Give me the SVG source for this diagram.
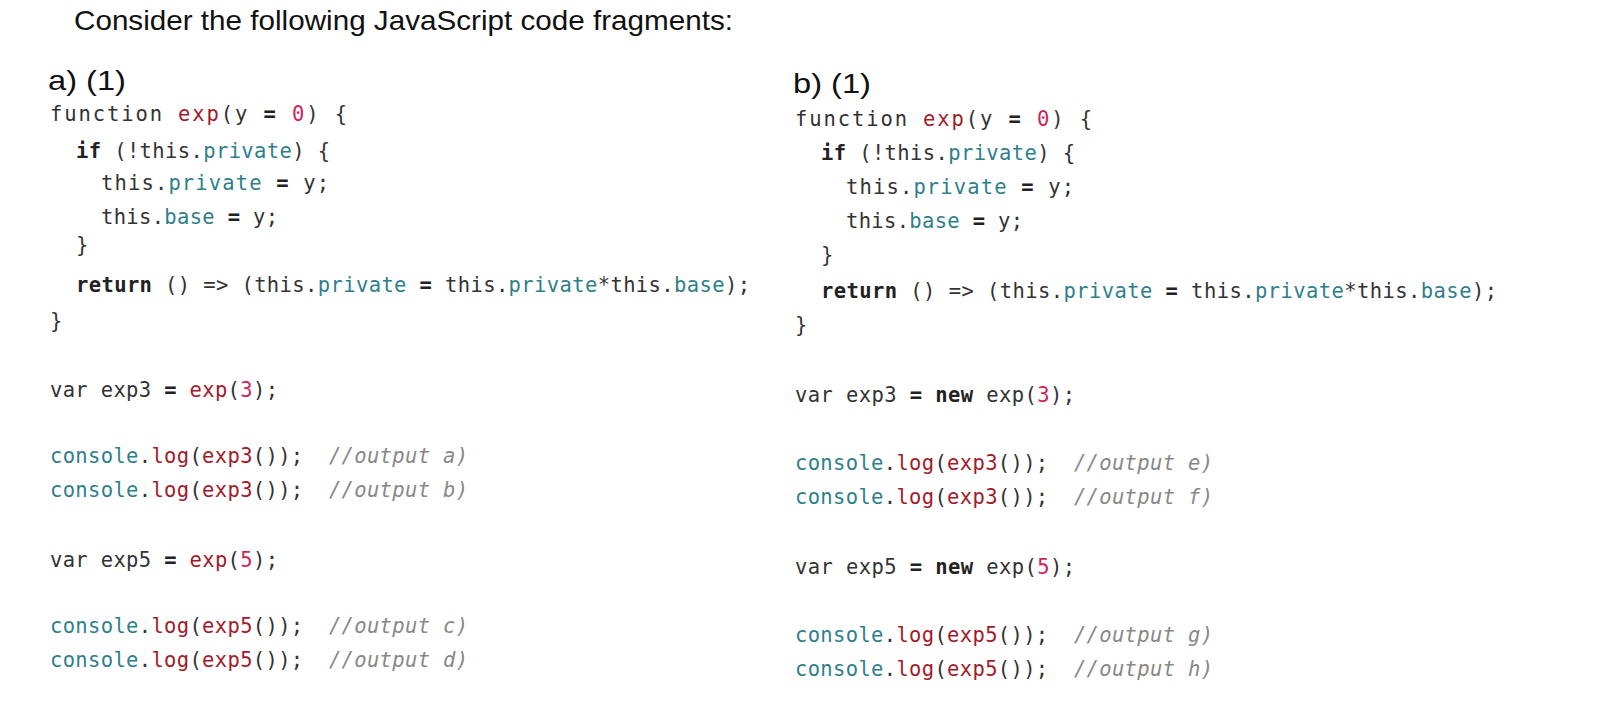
<svg xmlns="http://www.w3.org/2000/svg" width="1608" height="720" viewBox="0 0 1608 720">
<style>
.h{font-family:"Liberation Sans",Carlito,sans-serif;font-size:28px;fill:#111}
.c{font-family:"DejaVu Sans Mono","Liberation Mono",monospace;font-size:20.5px;fill:#333;white-space:pre}
.k{font-weight:bold;fill:#222}
.r{fill:#a31b2b}
.n{fill:#d0245a}
.p{fill:#2e7f8c}
.m{fill:#888;font-style:italic}
</style>
<rect width="1608" height="720" fill="#fff"/>
<text class="h" x="74" y="30" textLength="659" lengthAdjust="spacingAndGlyphs">Consider the following JavaScript code fragments:</text>
<text class="h" x="48" y="90" textLength="78" lengthAdjust="spacingAndGlyphs">a) (1)</text>
<text class="h" x="793" y="93" textLength="78" lengthAdjust="spacingAndGlyphs">b) (1)</text>
<g id="codeA" class="c" xml:space="preserve">
<text x="50" y="121" textLength="297">function <tspan class="r">exp</tspan>(y <tspan class="k">=</tspan> <tspan class="n">0</tspan>) {</text>
<text x="76" y="158" textLength="254"><tspan class="k">if</tspan> (!this.<tspan class="p">private</tspan>) {</text>
<text x="101" y="190" textLength="228">this.<tspan class="p">private</tspan> <tspan class="k">=</tspan> y;</text>
<text x="101" y="224" textLength="177">this.<tspan class="p">base</tspan> <tspan class="k">=</tspan> y;</text>
<text x="76" y="252">}</text>
<text x="76" y="292" textLength="674"><tspan class="k">return</tspan> () => (this.<tspan class="p">private</tspan> <tspan class="k">=</tspan> this.<tspan class="p">private</tspan>*this.<tspan class="p">base</tspan>);</text>
<text x="50" y="328">}</text>
<text x="50" y="397" textLength="228">var exp3 <tspan class="k">=</tspan> <tspan class="r">exp</tspan>(<tspan class="n">3</tspan>);</text>
<text x="50" y="463" textLength="418"><tspan class="p">console</tspan>.<tspan class="r">log</tspan>(<tspan class="r">exp3</tspan>());&#160; <tspan class="m">//output a)</tspan></text>
<text x="50" y="497" textLength="418"><tspan class="p">console</tspan>.<tspan class="r">log</tspan>(<tspan class="r">exp3</tspan>());&#160; <tspan class="m">//output b)</tspan></text>
<text x="50" y="567" textLength="228">var exp5 <tspan class="k">=</tspan> <tspan class="r">exp</tspan>(<tspan class="n">5</tspan>);</text>
<text x="50" y="633" textLength="418"><tspan class="p">console</tspan>.<tspan class="r">log</tspan>(<tspan class="r">exp5</tspan>());&#160; <tspan class="m">//output c)</tspan></text>
<text x="50" y="667" textLength="418"><tspan class="p">console</tspan>.<tspan class="r">log</tspan>(<tspan class="r">exp5</tspan>());&#160; <tspan class="m">//output d)</tspan></text>
</g>
<g id="codeB" class="c" xml:space="preserve">
<text x="795" y="126" textLength="297">function <tspan class="r">exp</tspan>(y <tspan class="k">=</tspan> <tspan class="n">0</tspan>) {</text>
<text x="821" y="160" textLength="254"><tspan class="k">if</tspan> (!this.<tspan class="p">private</tspan>) {</text>
<text x="846" y="194" textLength="228">this.<tspan class="p">private</tspan> <tspan class="k">=</tspan> y;</text>
<text x="846" y="228" textLength="177">this.<tspan class="p">base</tspan> <tspan class="k">=</tspan> y;</text>
<text x="821" y="262">}</text>
<text x="821" y="298" textLength="676"><tspan class="k">return</tspan> () => (this.<tspan class="p">private</tspan> <tspan class="k">=</tspan> this.<tspan class="p">private</tspan>*this.<tspan class="p">base</tspan>);</text>
<text x="795" y="332">}</text>
<text x="795" y="402" textLength="280">var exp3 <tspan class="k">=</tspan> <tspan class="k">new</tspan> exp(<tspan class="n">3</tspan>);</text>
<text x="795" y="470" textLength="418"><tspan class="p">console</tspan>.<tspan class="r">log</tspan>(<tspan class="r">exp3</tspan>());&#160; <tspan class="m">//output e)</tspan></text>
<text x="795" y="504" textLength="418"><tspan class="p">console</tspan>.<tspan class="r">log</tspan>(<tspan class="r">exp3</tspan>());&#160; <tspan class="m">//output f)</tspan></text>
<text x="795" y="574" textLength="280">var exp5 <tspan class="k">=</tspan> <tspan class="k">new</tspan> exp(<tspan class="n">5</tspan>);</text>
<text x="795" y="642" textLength="418"><tspan class="p">console</tspan>.<tspan class="r">log</tspan>(<tspan class="r">exp5</tspan>());&#160; <tspan class="m">//output g)</tspan></text>
<text x="795" y="676" textLength="418"><tspan class="p">console</tspan>.<tspan class="r">log</tspan>(<tspan class="r">exp5</tspan>());&#160; <tspan class="m">//output h)</tspan></text>
</g>
</svg>
